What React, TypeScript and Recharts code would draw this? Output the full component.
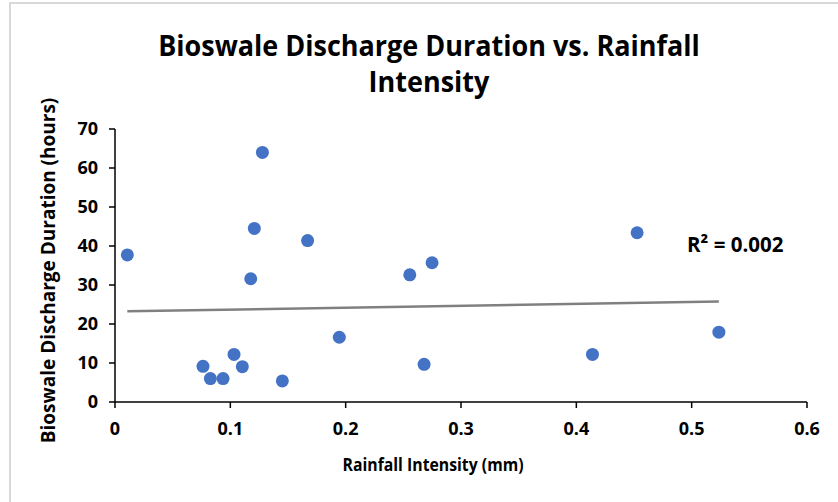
import React from "react";
import { ScatterChart, Scatter, XAxis, YAxis } from "recharts";

const rainfall = [0.0107, 0.0763, 0.0827, 0.0937, 0.1032, 0.1104, 0.1177, 0.1208, 0.1278, 0.1451, 0.167, 0.1945, 0.2556, 0.268, 0.2749, 0.414, 0.4527, 0.5236];
const duration = [37.7, 9.15, 6.0, 6.0, 12.2, 9.05, 31.6, 44.5, 64.0, 5.4, 41.4, 16.6, 32.6, 9.65, 35.7, 12.2, 43.4, 17.9];
const trendX = [0.0107, 0.5236];
const trendY = [23.25, 25.8];
const xTicks = [0, 0.1, 0.2, 0.3, 0.4, 0.5, 0.6];
const yTicks = [0, 10, 20, 30, 40, 50, 60, 70];
const titleLines = ["Bioswale Discharge Duration vs. Rainfall", "Intensity"];
const xTitle = "Rainfall Intensity (mm)";
const yTitle = "Bioswale Discharge Duration (hours)";
const rSquared = "R² = 0.002";

const points = rainfall.map((x, i) => ({ x, y: duration[i] }));
const trend = trendX.map((x, i) => ({ x, y: trendY[i] }));

const FONT = "'Open Sans', 'Noto Sans', sans-serif";
const tickStyle = { fontFamily: FONT, fontSize: 18, fontWeight: 700, fill: "#000" };

export default function App() {
  return (
    <div style={{ position: "absolute", left: 0, top: 0, width: 838, height: 502, background: "#fff", overflow: "hidden" }}>
      <div style={{ position: "absolute", left: 9, top: 2, width: 900, height: 600, borderLeft: "2px solid #d9d9d9", borderTop: "2px solid #d9d9d9" }} />
      <div style={{ position: "absolute", left: 0, top: 0 }}>
        <ScatterChart width={838} height={502} margin={{ top: 129, right: 31, bottom: 60, left: 55 }}>
          <XAxis
            type="number"
            dataKey="x"
            domain={[0, 0.6]}
            ticks={xTicks}
            tickFormatter={(v: number) => String(v)}
            stroke="#000"
            strokeWidth={1.5}
            tickSize={6}
            tickMargin={14}
            tick={tickStyle}
            height={40}
            allowDataOverflow
          />
          <YAxis
            type="number"
            dataKey="y"
            domain={[0, 70]}
            ticks={yTicks}
            stroke="#000"
            strokeWidth={1.5}
            tickSize={6}
            tickMargin={11}
            tick={tickStyle}
            width={60}
            allowDataOverflow
          />
          <Scatter
            data={trend}
            line={{ stroke: "#808080", strokeWidth: 2.5 }}
            shape={() => <g />}
            isAnimationActive={false}
          />
          <Scatter data={points} fill="#4472C4" isAnimationActive={false} shape={(p: any) => <circle cx={p.cx} cy={p.cy} r={6.5} fill="#4472C4" />} />
        </ScatterChart>
      </div>
      <svg width={838} height={502} style={{ position: "absolute", left: 0, top: 0, pointerEvents: "none" }}>
        <g fontFamily={FONT} fontWeight={700} fill="#000">
          <text transform="translate(429,56) scale(1,1.08)" textAnchor="middle" fontSize={27}>{titleLines[0]}</text>
          <text transform="translate(429,92) scale(1,1.08)" textAnchor="middle" fontSize={27}>{titleLines[1]}</text>
          <text transform="translate(433,471) scale(1,1.12)" textAnchor="middle" fontSize={15.8}>{xTitle}</text>
          <text transform="translate(55,270.5) rotate(-90)" textAnchor="middle" fontSize={19}>{yTitle}</text>
          <text x={687} y={252} fontSize={20.5}>{rSquared}</text>
        </g>
      </svg>
    </div>
  );
}
